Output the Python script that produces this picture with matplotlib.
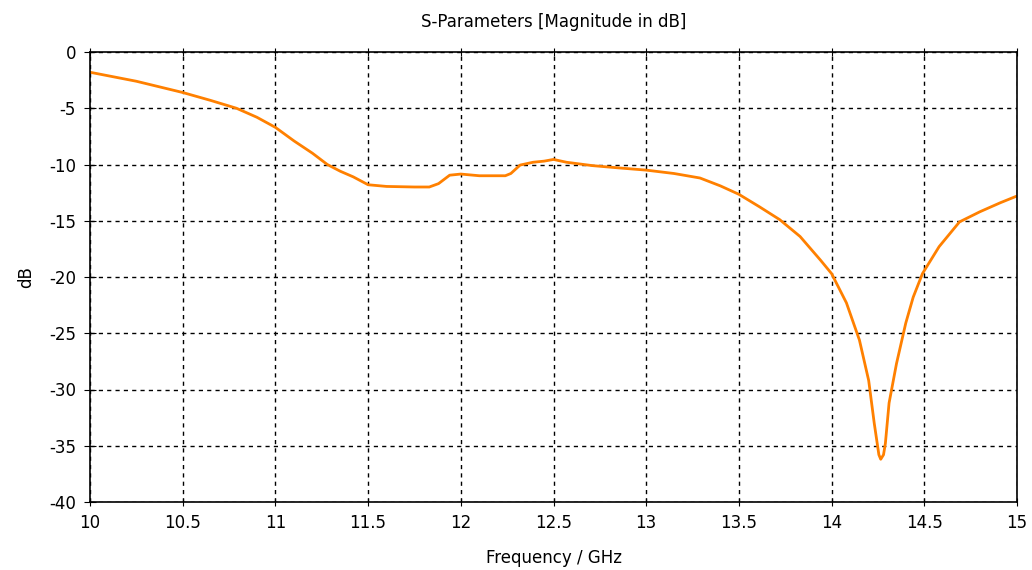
import matplotlib.pyplot as plt

plt.rcParams['axes.unicode_minus'] = False

freq = [10.0, 10.25, 10.5, 10.65, 10.79, 10.9, 11.0, 11.1, 11.2, 11.28, 11.35, 11.42, 11.5,
        11.6, 11.75, 11.83, 11.88, 11.94, 12.0, 12.1, 12.24, 12.27, 12.32, 12.39, 12.45,
        12.5, 12.57, 12.71, 12.85, 13.0, 13.15, 13.29, 13.4, 13.5, 13.61, 13.72, 13.83,
        13.94, 14.0, 14.08, 14.15, 14.2, 14.23, 14.255, 14.265, 14.28, 14.29, 14.31,
        14.35, 14.4, 14.44, 14.49, 14.58, 14.69, 14.8, 14.91, 15.0]
s11 = [-1.8, -2.6, -3.6, -4.3, -5.0, -5.8, -6.7, -7.9, -9.0, -10.0, -10.6, -11.1, -11.8,
       -11.95, -12.0, -12.0, -11.7, -10.95, -10.85, -11.0, -11.0, -10.8, -10.05, -9.8, -9.7,
       -9.55, -9.8, -10.1, -10.3, -10.5, -10.8, -11.2, -11.9, -12.65, -13.75, -14.9, -16.4,
       -18.5, -19.7, -22.3, -25.6, -29.2, -33.0, -35.8, -36.2, -35.8, -34.8, -31.2,
       -27.7, -24.1, -21.8, -19.7, -17.3, -15.1, -14.2, -13.4, -12.8]

fig = plt.figure(figsize=(10.32, 5.70), dpi=100)
ax = fig.add_axes([90/1032, 1 - 502/570, 927/1032, 450/570])
ax.plot(freq, s11, color='#FF8000', lw=2)

ax.set_xlim(10, 15)
ax.set_ylim(-40, 0)
ax.set_xticks([10 + 0.5*i for i in range(11)])
ax.set_xticklabels(['10', '10.5', '11', '11.5', '12', '12.5', '13', '13.5', '14', '14.5', '15'])
ax.set_yticks(range(-40, 1, 5))
ax.grid(True, color='black', linestyle=(0, (3, 3)), linewidth=1)
ax.tick_params(axis='x', direction='inout', length=6, top=True, labelsize=12, pad=6)
ax.tick_params(axis='y', direction='inout', length=8, labelsize=12, pad=6)
for s in ax.spines.values():
    s.set_linewidth(1.2)
    s.set_zorder(3)
ax.set_title('S-Parameters [Magnitude in dB]', fontsize=12, pad=18)
ax.set_xlabel('Frequency / GHz', fontsize=12, labelpad=12)
ax.set_ylabel('dB', fontsize=12, labelpad=10)

fig.savefig('out.png', dpi=100)
